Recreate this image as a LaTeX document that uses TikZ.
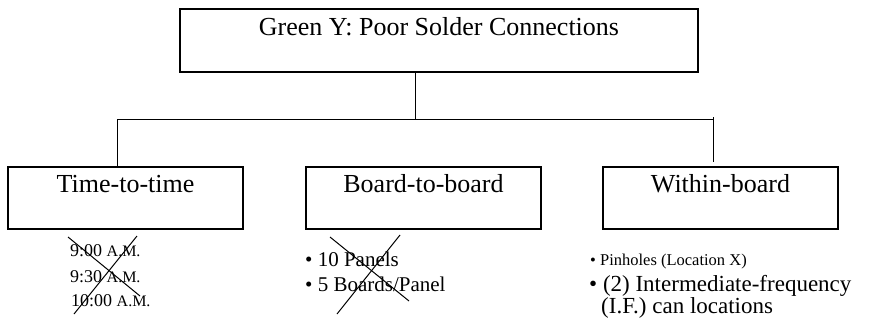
\documentclass[tikz,border=0pt]{standalone}
\usepackage{fontspec}
\setmainfont{Liberation Serif}
\newcommand{\fsz}[1]{\fontsize{#1}{#1}\selectfont}
\begin{document}
\begin{tikzpicture}[x=1pt,y=-1pt,
  box/.style={draw, line width=1.1pt, inner sep=0pt},
  wire/.style={line width=1pt},
  strike/.style={line width=1pt},
  lbl/.style={anchor=base, inner sep=0pt, font=\fsz{26}},
  item/.style={anchor=base west, inner sep=0pt}]
\useasboundingbox (0,0) rectangle (869,324);

% boxes
\node[box, minimum width=518pt, minimum height=63pt] (top) at (439,40.5) {};
\node[box, minimum width=235pt, minimum height=62pt] (b1) at (125.5,198) {};
\node[box, minimum width=235pt, minimum height=62pt] (b2) at (423.5,198) {};
\node[box, minimum width=235pt, minimum height=62pt] (b3) at (720.5,198) {};

% box titles
\node[lbl] (ttop) at (439,35) {Green Y: Poor Solder Connections};
\node[lbl] (t1) at (125.5,192) {Time-to-time};
\node[lbl] (t2) at (423.5,192) {Board-to-board};
\node[lbl] (t3) at (720.5,192) {Within-board};

% tree connectors
\coordinate (jc) at (415,119);
\coordinate (jl) at (117,119);
\coordinate (jr) at (713,119);
\draw[wire] (top.south -| jc) -- (jc);
\draw[wire] (jl |- b1.north) -- (jl) -- (jr) -- ++(0,-2);
\draw[wire] (jr) -- ([yshift=4pt]jr |- b3.north);

% time-to-time list
\node[item, font=\fsz{18}] (m1) at (70,256) {9:00 {\fsz{16}A.M.}};
\node[item, font=\fsz{18}] (m2) at (70,282) {9:30 {\fsz{16}A.M.}};
\node[item, font=\fsz{18}] (m3) at (71,306) {10:00 {\fsz{16}A.M.}};
\draw[strike] (68,237) -- (140,296);
\draw[strike] (137,236) -- (74,314);

% board-to-board list
\node[item, font=\fsz{21}] (p1) at (305,266) {\textbullet\ 10 Panels};
\node[item, font=\fsz{21}] (p2) at (305,291) {\textbullet\ 5 Boards/Panel};
\draw[strike] (330,237) -- (409,301);
\draw[strike] (400,235) -- (337,314);

% within-board list
\node[item, font=\fsz{16.5}] (w1) at (590,265) {\textbullet\ Pinholes (Location X)};
\node[item, font=\fsz{23}] (w2) at (589,291) {\textbullet\ (2) Intermediate-frequency};
\node[item, font=\fsz{23}] (w3) at (601,313) {(I.F.) can locations};
\end{tikzpicture}
\end{document}
